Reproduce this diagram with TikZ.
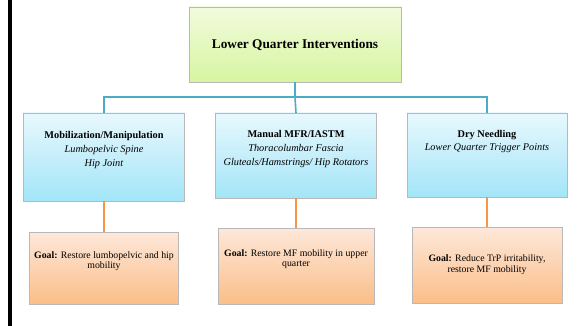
\documentclass[tikz,border=0pt]{standalone}
\usepackage{fontspec}
\setmainfont{Liberation Serif}
\usetikzlibrary{shadows}
\definecolor{bluelink}{HTML}{4BACC6}
\definecolor{orangelink}{HTML}{F79646}
\definecolor{greentop}{HTML}{F2FBDD}
\definecolor{greenbot}{HTML}{D6F5A0}
\definecolor{bluetop}{HTML}{E8F8FD}
\definecolor{bluebot}{HTML}{A3E5F8}
\definecolor{orangetop}{HTML}{FDE8DA}
\definecolor{orangebot}{HTML}{FBBE88}
\definecolor{boxedge}{HTML}{B8B8B8}
\tikzset{
  boxbase/.style={draw=boxedge, line width=0.6pt, drop shadow={shadow xshift=1pt, shadow yshift=-1pt, fill=gray!60, opacity=0.6}},
  greenbox/.style={boxbase, top color=greentop, bottom color=greenbot},
  bluebox/.style={boxbase, top color=bluetop, bottom color=bluebot},
  orangebox/.style={boxbase, top color=orangetop, bottom color=orangebot},
  bluewire/.style={draw=bluelink, line width=1.6pt},
  orangewire/.style={draw=orangelink, line width=1.6pt},
  lbl/.style={align=center, inner sep=0pt},
}
\begin{document}
\begin{tikzpicture}[x=1pt,y=-1pt]
\useasboundingbox (0,0) rectangle (578,326);
\fill[white] (0,0) rectangle (578,326);
\fill[black] (8,0) rectangle (11.5,326);
% boxes
\path[greenbox] (189,7) rectangle (401,82);
\node[lbl, font=\bfseries\fontsize{13.3}{16}\selectfont] (top) at (295,45) {Lower Quarter Interventions};
\coordinate (topb) at (295,82);
\coordinate (bus) at (295,97);

\path[bluebox] (23,113) rectangle (184,201);
\path[bluebox] (215,113) rectangle (376,198);
\path[bluebox] (407,113) rectangle (567,197);
\coordinate (b1t) at (104,113); \coordinate (b1b) at (104,201);
\coordinate (b2t) at (296,113); \coordinate (b2b) at (296,198);
\coordinate (b3t) at (487,113); \coordinate (b3b) at (487,197);

\node[lbl, font=\fontsize{10.3}{14}\selectfont] (b1) at (104,150) {\textbf{Mobilization/Manipulation}\\\textit{Lumbopelvic Spine}\\\textit{Hip Joint}};
\node[lbl, font=\fontsize{10.3}{14}\selectfont] (b2) at (296,149) {\textbf{Manual MFR/IASTM}\\\textit{Thoracolumbar Fascia}\\\textit{Gluteals/Hamstrings/ Hip Rotators}};
\node[lbl, font=\fontsize{10.3}{13.5}\selectfont] (b3) at (487,141.5) {\textbf{Dry Needling}\\\textit{Lower Quarter Trigger Points}};

\path[orangebox] (29,232) rectangle (178,304);
\path[orangebox] (218,228) rectangle (374,304);
\path[orangebox] (412,227) rectangle (562,303);
\coordinate (o1t) at (104,232);
\coordinate (o2t) at (296,228);
\coordinate (o3t) at (487,227);

\node[lbl, font=\fontsize{9.8}{10.5}\selectfont] (g1) at (104,261) {\textbf{Goal:} Restore lumbopelvic and hip\\mobility};
\node[lbl, font=\fontsize{9.8}{10.5}\selectfont] (g2) at (296,259) {\textbf{Goal:} Restore MF mobility in upper\\quarter};
\node[lbl, font=\fontsize{9.8}{10.5}\selectfont] (g3) at (487,264.5) {\textbf{Goal:} Reduce TrP irritability,\\restore MF mobility};

% connectors
\draw[bluewire] (topb) -- (bus);
\draw[bluewire] (b1t) -- (b1t |- bus) -- (b3t |- bus) -- (b3t);
\draw[bluewire] (bus) -- (b2t);
\draw[orangewire] (b1b) -- (o1t);
\draw[orangewire] (b2b) -- (o2t);
\draw[orangewire] (b3b) -- (o3t);
\end{tikzpicture}
\end{document}
